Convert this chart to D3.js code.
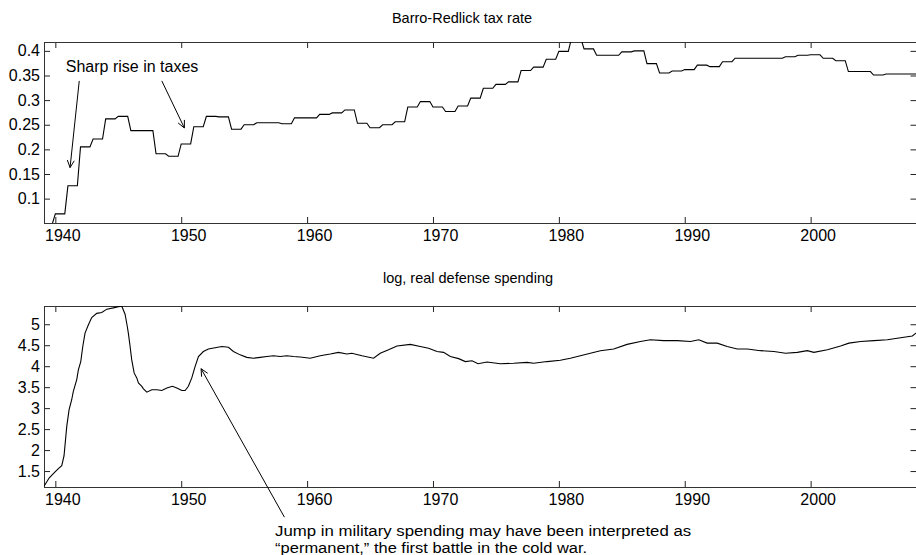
<!DOCTYPE html>
<html><head><meta charset="utf-8">
<script src="https://cdn.jsdelivr.net/npm/d3@7"></script>
<style>
body{margin:0;background:#fff;}
text{font-family:"Liberation Sans",Arial,sans-serif;}
</style></head>
<body>
<svg id="chart" width="916" height="555"></svg>
<script>
// ---------- DATA ----------
const yearTicks = [1940,1950,1960,1970,1980,1990,2000];
const taxTicks = [0.1,0.15,0.2,0.25,0.3,0.35,0.4];
const defTicks = [1.5,2,2.5,3,3.5,4,4.5,5];

// Barro-Redlick average marginal tax rate, annual
const taxYears = [1939,1940,1941,1942,1943,1944,1945,1946,1947,1948,1949,
  1950,1951,1952,1953,1954,1955,1956,1957,1958,1959,
  1960,1961,1962,1963,1964,1965,1966,1967,1968,1969,
  1970,1971,1972,1973,1974,1975,1976,1977,1978,1979,
  1980,1981,1982,1983,1984,1985,1986,1987,1988,1989,
  1990,1991,1992,1993,1994,1995,1996,1997,1998,1999,
  2000,2001,2002,2003,2004,2005,2006,2007,2008];
const taxRate = [0.048,0.069,0.126,0.205,0.221,0.262,0.267,0.238,0.238,0.191,0.186,
  0.211,0.246,0.267,0.266,0.241,0.250,0.254,0.254,0.252,0.264,
  0.264,0.271,0.274,0.280,0.253,0.244,0.250,0.256,0.286,0.297,
  0.286,0.277,0.288,0.304,0.324,0.332,0.337,0.360,0.367,0.383,
  0.399,0.425,0.404,0.391,0.391,0.398,0.400,0.374,0.355,0.359,
  0.362,0.371,0.368,0.378,0.385,0.385,0.385,0.385,0.388,0.391,
  0.392,0.385,0.380,0.358,0.358,0.351,0.353,0.353,0.353];

// log real defense spending
const defYears = [1939.10,1939.52,1939.98,1940.24,1940.51,1940.69,1940.91,1941.09,1941.30,1941.43,
  1941.70,1941.83,1942.02,1942.18,1942.36,1942.62,1942.89,1943.29,1943.69,1944.09,
  1944.61,1945.01,1945.28,1945.54,1945.72,1945.80,1945.94,1946.07,1946.26,1946.47,
  1946.60,1946.87,1947.00,1947.27,1947.66,1948.06,1948.46,1948.86,1949.30,1949.65,
  1950.05,1950.31,1950.57,1950.84,1951.10,1951.37,1951.76,1952.16,1952.69,1953.23,
  1953.75,1954.15,1954.68,1955.21,1955.74,1956.27,1956.80,1957.33,1957.86,1958.39,
  1958.92,1959.45,1960.25,1961.04,1961.84,1962.50,1963.16,1963.56,1964.36,1965.28,
  1965.81,1966.47,1967.14,1968.20,1968.99,1969.65,1970.32,1970.84,1971.38,1972.04,
  1972.57,1973.10,1973.58,1974.29,1975.35,1976.41,1977.47,1978.00,1979.06,1980.12,
  1980.91,1981.71,1982.50,1983.30,1984.36,1985.42,1986.48,1987.27,1988.33,1989.40,
  1990.46,1991.11,1991.78,1992.58,1993.37,1994.17,1994.97,1996.02,1997.08,1998.01,
  1998.94,1999.73,2000.26,2001.33,2002.38,2003.04,2003.97,2005.03,2006.09,2007.15,
  2008.08,2008.42];
const defValue = [1.14,1.34,1.48,1.56,1.63,1.86,2.57,2.96,3.20,3.40,
  3.68,3.91,4.11,4.47,4.79,4.98,5.16,5.26,5.28,5.36,
  5.39,5.42,5.43,5.24,4.94,4.79,4.47,4.15,3.84,3.72,
  3.60,3.52,3.46,3.38,3.44,3.44,3.42,3.48,3.52,3.48,
  3.42,3.42,3.52,3.72,3.99,4.23,4.35,4.41,4.44,4.47,
  4.45,4.35,4.27,4.21,4.19,4.21,4.23,4.25,4.23,4.25,
  4.23,4.22,4.19,4.25,4.29,4.33,4.29,4.31,4.25,4.19,
  4.31,4.39,4.48,4.52,4.47,4.43,4.35,4.33,4.23,4.18,
  4.11,4.13,4.06,4.10,4.06,4.07,4.09,4.07,4.11,4.14,
  4.19,4.25,4.31,4.37,4.41,4.52,4.59,4.63,4.61,4.61,
  4.59,4.63,4.55,4.55,4.47,4.41,4.41,4.37,4.35,4.31,
  4.33,4.37,4.33,4.39,4.48,4.55,4.59,4.61,4.63,4.68,
  4.72,4.80];

// ---------- LAYOUT ----------
const svg = d3.select("#chart");
const L = 44, R = 917;
const top1 = 42, bot1 = 223, top2 = 306, bot2 = 487;
const fs = 16;

const x = d3.scaleLinear().domain([1939.1, 2008.45]).range([L, R]);
const y1 = d3.scaleLinear().domain([0.0505, 0.418]).range([bot1, top1]);
const y2 = d3.scaleLinear().domain([1.12, 5.435]).range([bot2, top2]);

const defs = svg.append("defs");
defs.append("clipPath").attr("id","c1").append("rect")
  .attr("x",L).attr("y",top1).attr("width",R-L).attr("height",bot1-top1);
defs.append("clipPath").attr("id","c2").append("rect")
  .attr("x",L).attr("y",top2).attr("width",R-L).attr("height",bot2-top2);

function panel(y, top, bot, yt, fmt, title, titleX, titleY){
  const g = svg.append("g");
  g.append("g").attr("transform",`translate(0,${bot})`)
    .call(d3.axisBottom(x).tickValues(yearTicks).tickSize(-6).tickPadding(7).tickFormat(d3.format("d")))
    .call(a=>a.select(".domain").remove())
    .call(a=>a.selectAll(".tick text").attr("dx",7));
  g.append("g").attr("transform",`translate(0,${top})`)
    .call(d3.axisTop(x).tickValues(yearTicks).tickSize(-6).tickFormat(""))
    .call(a=>a.select(".domain").remove());
  g.append("g").attr("transform",`translate(${L},0)`)
    .call(d3.axisLeft(y).tickValues(yt).tickSize(-6).tickPadding(4).tickFormat(fmt))
    .call(a=>a.select(".domain").remove());
  g.append("g").attr("transform",`translate(${R-0.5},0)`)
    .call(d3.axisRight(y).tickValues(yt).tickSize(-6).tickFormat(""))
    .call(a=>a.select(".domain").remove());
  g.selectAll(".tick line").attr("stroke","#222");
  g.selectAll(".tick text").attr("font-size",fs).attr("fill","#000")
    .attr("font-family","'Liberation Sans',Arial,sans-serif");
  g.append("rect").attr("x",L+0.5).attr("y",top+0.5).attr("width",R-L).attr("height",bot-top)
    .attr("fill","none").attr("stroke","#333").attr("stroke-width",1);
  svg.append("text").attr("x",titleX).attr("y",titleY).attr("text-anchor","middle")
    .attr("font-size",14.5).text(title);
}

panel(y1, top1, bot1, taxTicks, d=>String(+d.toFixed(2)), "Barro-Redlick tax rate", 462, 23);
panel(y2, top2, bot2, defTicks, d=>String(+d.toFixed(1)), "log, real defense spending", 468, 283);

// tax series: each annual value held through the year, moving to the next over the final quarter
const taxPts = [];
taxYears.forEach((yr,i)=>{ taxPts.push([yr, taxRate[i]]); taxPts.push([yr+0.75, taxRate[i]]); });
svg.append("path").datum(taxPts).attr("clip-path","url(#c1)")
  .attr("fill","none").attr("stroke","#000").attr("stroke-width",1.1)
  .attr("d", d3.line().x(d=>x(d[0])).y(d=>y1(d[1])));

svg.append("path").datum(defYears.map((yr,i)=>[yr,defValue[i]])).attr("clip-path","url(#c2)")
  .attr("fill","none").attr("stroke","#000").attr("stroke-width",1.1)
  .attr("d", d3.line().x(d=>x(d[0])).y(d=>y2(d[1])));

// ---------- ANNOTATIONS ----------
function arrow(x0,y0,x1,y1){
  const g = svg.append("g").attr("stroke","#000").attr("stroke-width",1).attr("fill","none");
  g.append("line").attr("x1",x0).attr("y1",y0).attr("x2",x1).attr("y2",y1);
  const ang = Math.atan2(y1-y0, x1-x0), len = 8, spread = 0.45;
  [ang+Math.PI-spread, ang+Math.PI+spread].forEach(a=>{
    g.append("line").attr("x1",x1).attr("y1",y1)
      .attr("x2",x1+len*Math.cos(a)).attr("y2",y1+len*Math.sin(a));
  });
}
svg.append("text").attr("x",x(1940.83)).attr("y",y1(0.357)).attr("font-size",16).text("Sharp rise in taxes");
arrow(x(1941.9), y1(0.339), x(1941.17), y1(0.163));
arrow(x(1948.46), y1(0.339), x(1950.25), y1(0.2435));

arrow(x(1958.2), y2(0.40), x(1951.58), y2(3.94));
svg.append("text").attr("x",x(1957.46)).attr("y",536).attr("font-size",14)
  .attr("textLength",416).attr("lengthAdjust","spacingAndGlyphs")
  .text("Jump in military spending may have been interpreted as");
svg.append("text").attr("x",x(1957.46)).attr("y",552.5).attr("font-size",14)
  .attr("textLength",312).attr("lengthAdjust","spacingAndGlyphs")
  .text("\u201Cpermanent,\u201D the first battle in the cold war.");
</script>
</body></html>
